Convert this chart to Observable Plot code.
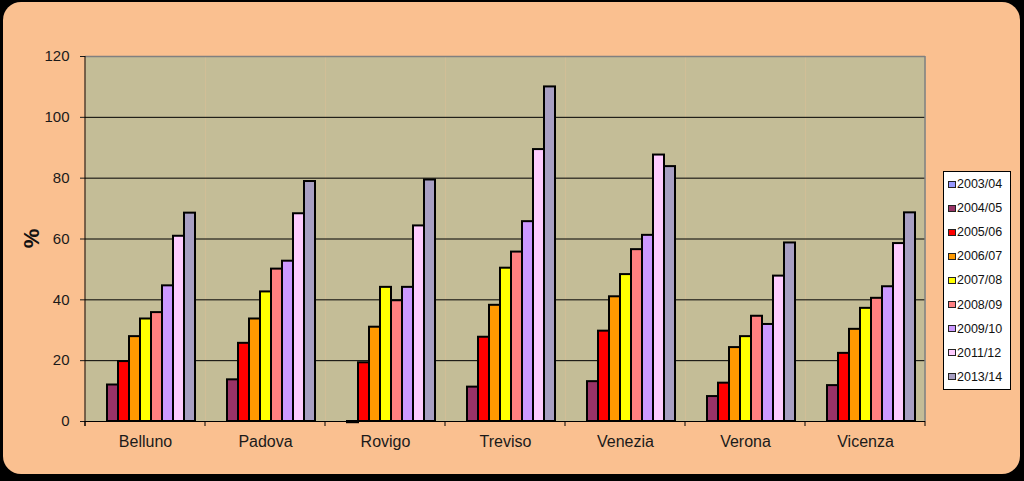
<!DOCTYPE html>
<html>
<head>
<meta charset="utf-8">
<script src="https://cdn.jsdelivr.net/npm/d3@7"></script>
<script src="https://cdn.jsdelivr.net/npm/@observablehq/plot@0.6"></script>
<style>
  html, body { margin: 0; padding: 0; background: #000; width: 1024px; height: 481px; overflow: hidden; }
  #panel { position: absolute; left: 3px; top: 2px; width: 1017px; height: 472px; background: #FAC090; border-radius: 18px; }
  #chart { position: absolute; left: 0; top: 0; }
  #legend { position: absolute; left: 943px; top: 171px; width: 66px; height: 217px; background: #fff; border: 1px solid #000;
            font-family: "Liberation Sans", Arial, sans-serif; font-size: 12.5px; color: #111; }
  #legend .item { height: 24.1px; display: flex; align-items: center; }
  #legend .sw { width: 6px; height: 5px; border: 1px solid #222; margin-left: 4px; margin-right: 1px; }
</style>
</head>
<body>
<div id="panel"></div>
<div id="chart"></div>
<div id="legend"></div>
<script>
const cities = ["Belluno", "Padova", "Rovigo", "Treviso", "Venezia", "Verona", "Vicenza"];
const years = ["2003/04", "2004/05", "2005/06", "2006/07", "2007/08", "2008/09", "2009/10", "2011/12", "2013/14"];
const colors = ["#9999FF", "#993366", "#FF0000", "#FF9900", "#FFFF00", "#FF8080", "#CC99FF", "#FFCCFF", "#A89FC2"];
const yTicks = [0, 20, 40, 60, 80, 100, 120];
const gridVals = [20, 40, 60, 80, 100];

const v200304 = [null, null, null, null, null, null, null];
const v200405 = [12.0, 13.7, -0.4, 11.3, 13.1, 8.2, 11.8];
const v200506 = [19.7, 25.7, 19.3, 27.7, 29.7, 12.6, 22.4];
const v200607 = [27.9, 33.7, 31.0, 38.2, 41.0, 24.3, 30.3];
const v200708 = [33.7, 42.6, 44.1, 50.4, 48.3, 27.9, 37.2];
const v200809 = [35.8, 50.1, 39.7, 55.7, 56.5, 34.6, 40.5];
const v200910 = [44.6, 52.7, 44.1, 65.7, 61.2, 31.9, 44.3];
const v201112 = [60.9, 68.3, 64.3, 89.4, 87.6, 47.8, 58.5];
const v201314 = [68.5, 78.9, 79.4, 110.0, 83.8, 58.7, 68.6];

const series = [v200304, v200405, v200506, v200607, v200708, v200809, v200910, v201112, v201314];
const data = [];
years.forEach((yr, i) => cities.forEach((c, j) => {
  if (series[i][j] != null) data.push({city: c, year: yr, value: series[i][j]});
}));

const font = "'Liberation Sans', Arial, sans-serif";
const chart = Plot.plot({
  width: 1024, height: 481,
  marginLeft: 84, marginRight: 98, marginTop: 56, marginBottom: 60,
  fx: {domain: cities, padding: 0},
  x: {domain: years, paddingInner: 0, paddingOuter: 0.66, axis: null},
  y: {domain: [0, 120]},
  color: {domain: years, range: colors},
  style: {fontFamily: font, color: "#1a1a1a", background: "transparent", overflow: "visible"},
  marks: [
    Plot.frame({fill: "#C4BD97", stroke: "none"}),
    Plot.ruleY(gridVals, {stroke: "#000", strokeWidth: 1}),
    Plot.ruleY([120], {stroke: "#808080", strokeWidth: 1.5}),
    Plot.barY(data, {fx: "city", x: "year", y: "value", fill: "year", stroke: "#000", strokeWidth: 2, insetLeft: 0, insetRight: 0}),
    Plot.ruleY([0], {stroke: "#000", strokeWidth: 1}),
    Plot.axisY({ticks: yTicks, tickSize: 5, tickPadding: 11, fontSize: 15, label: null}),
    Plot.axisFx({anchor: "bottom", tickSize: 0, tickPadding: 14, fontSize: 16, label: null})
  ]
});

// extra frame pieces derived from the chart's own scales
const fx = chart.scale("fx");
const ys = chart.scale("y");
const y0 = ys.apply(0), y120 = ys.apply(120);
const edges = cities.map(c => fx.apply(c));
edges.push(fx.apply(cities[cities.length - 1]) + fx.bandwidth);
const g = d3.select(chart).append("g");
g.append("line").attr("x1", edges[edges.length - 1]).attr("x2", edges[edges.length - 1])
  .attr("y1", y120).attr("y2", y0).attr("stroke", "#808080").attr("stroke-width", 1.5);
g.append("line").attr("x1", edges[0]).attr("x2", edges[0])
  .attr("y1", y120).attr("y2", y0 + 5).attr("stroke", "#000");
g.selectAll("line.bt").data(edges).join("line").attr("class", "bt")
  .attr("x1", d => d).attr("x2", d => d).attr("y1", y0).attr("y2", y0 + 5).attr("stroke", "#000");
g.append("text").attr("transform", `translate(31,${(y0 + y120) / 2}) rotate(-90)`)
  .attr("text-anchor", "middle").attr("dominant-baseline", "central")
  .attr("font-family", font).attr("font-weight", "bold").attr("font-size", 22).attr("fill", "#111").text("%");

document.getElementById("chart").appendChild(chart);

const legend = d3.select("#legend");
years.forEach((yr, i) => {
  const it = legend.append("div").attr("class", "item");
  it.append("div").attr("class", "sw").style("background", colors[i]);
  it.append("span").text(yr);
});
</script>
</body>
</html>
